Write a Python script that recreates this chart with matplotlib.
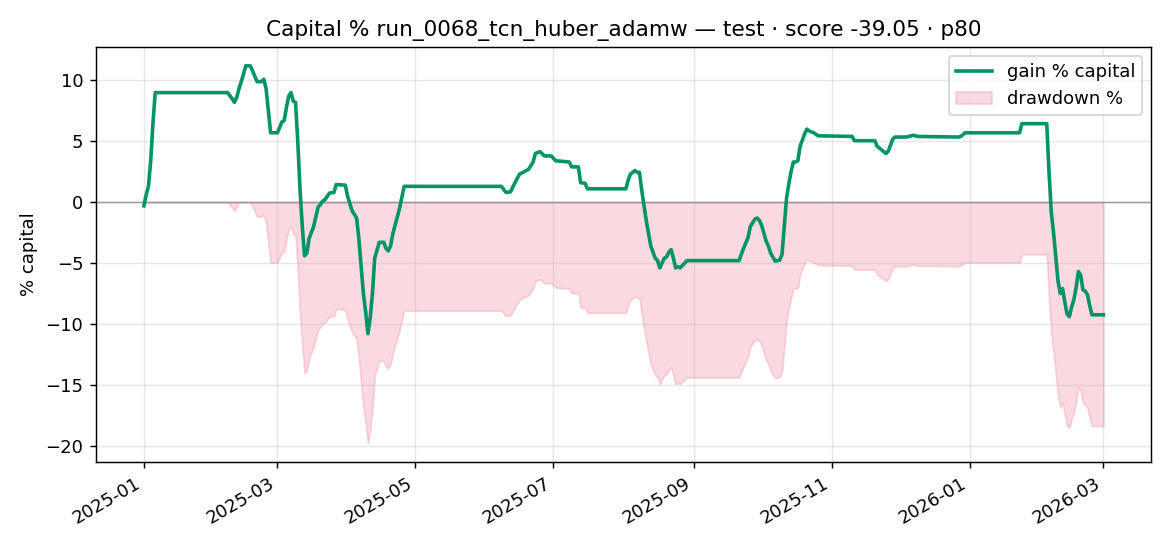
import matplotlib
matplotlib.use("Agg")
import matplotlib.pyplot as plt
import matplotlib.dates as mdates
import numpy as np
import pandas as pd

# Day offsets from 2025-01-01 and gain % capital
start_date = "2025-01-01"
day_offsets = [0, 1, 2, 3, 4, 5, 37, 39, 40, 41, 42, 44, 45, 47, 48, 50, 52, 53, 54, 56,
               59, 61, 62, 63, 64, 65, 66, 67, 68, 69, 70, 71, 72, 73, 75, 77, 78, 79, 80,
               82, 84, 85, 89, 90, 92, 93, 94, 95, 96, 97, 98, 99, 100, 101, 102, 104, 106,
               107, 108, 109, 110, 112, 113, 115, 158, 160, 162, 164, 166, 168, 170, 172,
               173, 175, 177, 180, 182, 188, 189, 192, 193, 195, 196, 213, 214, 215, 217,
               218, 219, 220, 222, 224, 225, 226, 227, 228, 229, 230, 231, 232, 233, 234,
               235, 236, 237, 238, 240, 263, 265, 267, 268, 270, 271, 272, 273, 275, 276,
               277, 279, 281, 282, 283, 284, 285, 286, 287, 288, 289, 290, 292, 293, 294,
               296, 298, 313, 314, 323, 324, 326, 328, 329, 331, 332, 337, 339, 340, 342,
               360, 361, 363, 387, 388, 399, 400, 401, 402, 403, 404, 405, 406, 407, 408,
               409, 410, 411, 412, 413, 414, 415, 416, 417, 418, 419, 424]
gain_pct = [-0.3, 0.6, 1.3, 3.4, 6.5, 9.0, 9.0, 8.5, 8.2, 8.6, 9.3, 10.5, 11.2, 11.2, 10.8,
            9.9, 9.9, 10.1, 9.3, 5.7, 5.7, 6.6, 6.7, 7.8, 8.7, 9.0, 8.3, 8.2, 5.0, 1.0, -2.0,
            -4.4, -4.2, -3.0, -2.0, -0.4, -0.2, 0.1, 0.2, 0.75, 0.8, 1.45, 1.4, 0.5, -0.7,
            -1.0, -1.3, -3.0, -5.3, -7.5, -9.0, -10.8, -9.5, -7.5, -4.6, -3.3, -3.3, -3.8,
            -4.0, -3.6, -2.6, -1.2, -0.5, 1.3, 1.3, 0.8, 0.85, 1.6, 2.3, 2.5, 2.7, 3.3, 4.0,
            4.15, 3.8, 3.8, 3.4, 3.3, 2.9, 2.9, 1.6, 1.55, 1.1, 1.1, 1.8, 2.3, 2.6, 2.45,
            2.45, 1.0, -1.5, -3.6, -4.1, -4.6, -4.8, -5.4, -5.0, -4.6, -4.5, -4.1, -3.9,
            -4.6, -5.4, -5.3, -5.4, -5.2, -4.8, -4.8, -3.8, -2.9, -2.0, -1.4, -1.3, -1.5,
            -1.9, -3.2, -3.6, -4.2, -4.85, -4.75, -4.3, -2.0, 0.3, 1.5, 2.5, 3.3, 3.3, 3.4,
            4.6, 5.6, 6.0, 5.85, 5.7, 5.45, 5.4, 5.05, 5.05, 4.6, 4.3, 4.0, 4.2, 5.2, 5.35,
            5.35, 5.45, 5.5, 5.4, 5.35, 5.4, 5.7, 5.7, 6.45, 6.45, 2.5, -0.8, -2.5, -4.5,
            -6.5, -7.5, -7.1, -8.2, -9.2, -9.4, -8.6, -8.0, -7.0, -5.7, -6.0, -7.2, -7.3,
            -7.6, -8.5, -9.25, -9.25]

title = "Capital % run_0068_tcn_huber_adamw — test · score -39.05 · p80"
ylabel = "% capital"
legend_labels = ["gain % capital", "drawdown %"]

dates = pd.Timestamp(start_date) + pd.to_timedelta(day_offsets, unit="D")
g = np.array(gain_pct)
equity = 1 + g / 100.0
peak = np.maximum.accumulate(np.maximum(equity, 1.0))
drawdown = (equity / peak - 1) * 100.0

fig = plt.figure(figsize=(9, 4.2), dpi=130)
ax = fig.add_axes([0.082, 0.154, 0.902, 0.76])

line, = ax.plot(dates, g, color="#009466", linewidth=2.0, label=legend_labels[0], zorder=3)
fill = ax.fill_between(dates, drawdown, 0, color="#f4a6b8", alpha=0.42,
                       edgecolor="#f2a0b4", linewidth=1.0, label=legend_labels[1])
ax.axhline(0, color="#888888", linewidth=0.8, alpha=0.8)

ax.set_title(title, fontsize=12)
ax.set_ylabel(ylabel)
ax.grid(True, alpha=0.3)
ax.xaxis.set_major_locator(mdates.MonthLocator(bymonth=[1, 3, 5, 7, 9, 11]))
ax.xaxis.set_major_formatter(mdates.DateFormatter("%Y-%m"))
for lbl in ax.get_xticklabels():
    lbl.set_rotation(30)
    lbl.set_ha("right")
ax.legend(handles=[line, fill], loc="upper right")

fig.savefig("out.png", dpi=130)
